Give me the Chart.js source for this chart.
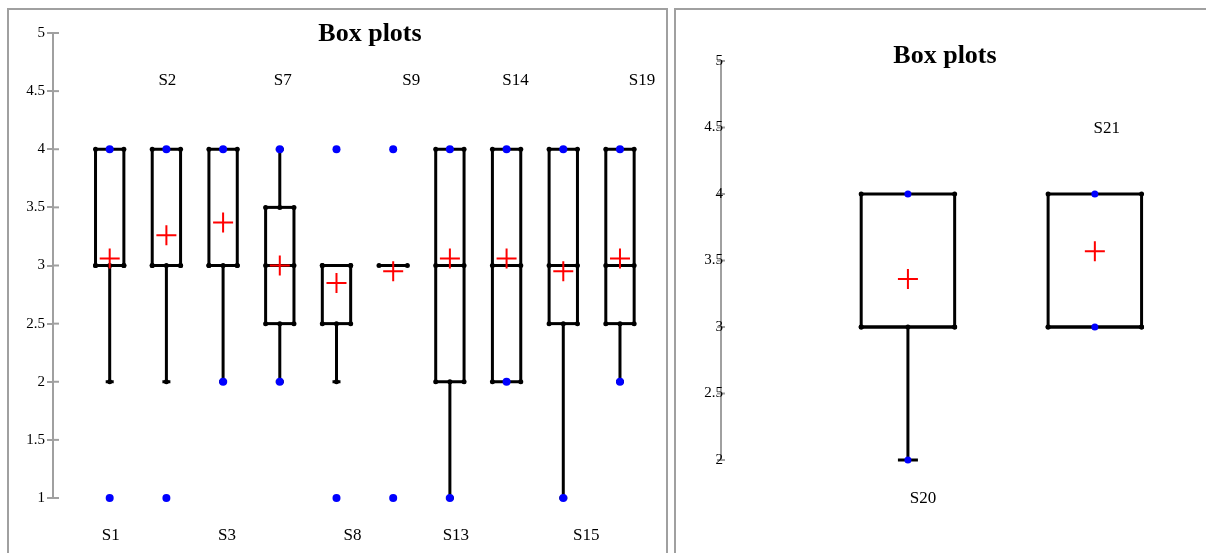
<!DOCTYPE html>
<html>
<head>
  <title>Box plots</title>
  <script src="https://cdn.jsdelivr.net/npm/chart.js@4.4.0/dist/chart.umd.min.js"></script>
  <style>
    body { margin: 0; background: #fff; width: 1206px; height: 553px; overflow: hidden; }
    .panel { position: absolute; border: 2px solid #a0a0a0; box-sizing: border-box; overflow: hidden; }
    #p1 { left: 7px; top: 8px; width: 661px; height: 600px; }
    #p2 { left: 674px; top: 8px; width: 600px; height: 600px; }
    canvas { position: absolute; left: 0; top: 0; }
  </style>
</head>
<body>
  <div class="panel" id="p1"><canvas id="c1" width="657" height="543"></canvas></div>
  <div class="panel" id="p2"><canvas id="c2" width="560" height="543"></canvas></div>

  <script>
    // left panel
    const namesA = ['S1', 'S2', 'S3', 'S7', 'S8', 'S9', 'S13', 'S14', 'S15', 'S19'];
    const q1A    = [3, 3, 3, 2.5, 2.5, 3, 2, 2, 2.5, 2.5];
    const medA   = [3, 3, 3, 3, 3, 3, 3, 3, 3, 3];
    const q3A    = [4, 4, 4, 3.5, 3, 3, 4, 4, 4, 4];
    const loA    = [2, 2, 2, 2, 2, 3, 1, 2, 1, 2];
    const hiA    = [4, 4, 4, 4, 3, 3, 4, 4, 4, 4];
    const meanA  = [3.06, 3.26, 3.37, 3.0, 2.85, 2.95, 3.06, 3.06, 2.95, 3.06];
    const minA   = [1, 1, 2, 2, 1, 1, 1, 2, 1, 2];
    const maxA   = [4, 4, 4, 4, 4, 4, 4, 4, 4, 4];

    // right panel
    const namesB = ['S20', 'S21'];
    const q1B    = [3, 3];
    const medB   = [3, 3];
    const q3B    = [4, 4];
    const loB    = [2, 3];
    const hiB    = [4, 4];
    const meanB  = [3.36, 3.57];
    const minB   = [2, 3];
    const maxB   = [4, 4];

    const serif = "'Liberation Serif', 'Times New Roman', serif";

    // label nudges (px), the source draws names a bit off-centre
    const shiftA = [1, 1, 4, 3, 16, 18, 6, 9, 23, 22];
    const shiftB = [15, 12];

    function line(ctx, x1, y1, x2, y2) {
      ctx.beginPath(); ctx.moveTo(x1, y1); ctx.lineTo(x2, y2); ctx.stroke();
    }
    function dot(ctx, x, y, r) {
      ctx.beginPath(); ctx.arc(x, y, r, 0, Math.PI * 2); ctx.fill();
    }

    const boxPlugin = {
      id: 'boxes',
      beforeDraw(chart, args, o) {
        // small ticks on the inner side of the axis, under the tick labels
        const { ctx } = chart;
        const y = chart.scales.y;
        const ax = chart.chartArea.left;
        ctx.save();
        ctx.strokeStyle = '#a0a0a0';
        ctx.lineWidth = 2;
        y.ticks.forEach(t => {
          const ty = y.getPixelForValue(t.value);
          line(ctx, ax - o.tickOut, ty, ax + o.tickIn, ty);
        });
        ctx.restore();
      },
      beforeDatasetsDraw(chart, args, o) {
        const { ctx } = chart;
        const x = chart.scales.x, y = chart.scales.y;
        const s = o.set;
        ctx.save();
        ctx.strokeStyle = '#000';
        ctx.fillStyle = '#000';
        ctx.lineWidth = 3;
        s.names.forEach((n, i) => {
          const c = x.getPixelForValue(i + 1);
          const hw = x.getPixelForValue(i + 1.25) - c;
          const yq1 = y.getPixelForValue(s.q1[i]);
          const yq3 = y.getPixelForValue(s.q3[i]);
          const ymed = y.getPixelForValue(s.med[i]);
          const ylo = y.getPixelForValue(s.lo[i]);
          const yhi = y.getPixelForValue(s.hi[i]);
          // whiskers
          if (s.lo[i] < s.q1[i]) {
            line(ctx, c, yq1, c, ylo);
            line(ctx, c - o.cap, ylo, c + o.cap, ylo);
            dot(ctx, c, ylo, 2.5);
            dot(ctx, c, yq1, 2.5);
          }
          if (s.hi[i] > s.q3[i]) {
            line(ctx, c, yq3, c, yhi);
            line(ctx, c - o.cap, yhi, c + o.cap, yhi);
            dot(ctx, c, yhi, 2.5);
            dot(ctx, c, yq3, 2.5);
          }
          // box
          if (s.q3[i] > s.q1[i]) {
            ctx.strokeRect(c - hw, yq3, hw * 2, yq1 - yq3);
            dot(ctx, c - hw, yq1, 2.5); dot(ctx, c + hw, yq1, 2.5);
            dot(ctx, c - hw, yq3, 2.5); dot(ctx, c + hw, yq3, 2.5);
          }
          line(ctx, c - hw, ymed, c + hw, ymed);
          dot(ctx, c - hw, ymed, 2.5); dot(ctx, c + hw, ymed, 2.5);
        });
        ctx.restore();
      },
      afterDraw(chart, args, o) {
        const { ctx } = chart;
        const x = chart.scales.x, y = chart.scales.y;
        const s = o.set;
        ctx.save();
        ctx.fillStyle = '#000';
        // tick labels sitting on the axis line (right panel)
        if (o.ownLabels) {
          ctx.font = '15px ' + serif;
          ctx.textAlign = 'right';
          ctx.textBaseline = 'middle';
          const ax = chart.chartArea.left;
          y.ticks.forEach(t => {
            ctx.fillText(t.label, ax + o.labelDx, y.getPixelForValue(t.value));
          });
        }
        // title
        ctx.textAlign = 'center';
        ctx.textBaseline = 'alphabetic';
        ctx.font = 'bold 26px ' + serif;
        ctx.fillText('Box plots', o.titleX, o.titleY);
        // series names, alternating under / over
        ctx.font = '17px ' + serif;
        s.names.forEach((n, i) => {
          const c = x.getPixelForValue(i + 1) + o.shift[i];
          ctx.fillText(n, c, i % 2 === 0 ? o.lowY : o.highY);
        });
        ctx.restore();
      }
    };

    function makeChart(id, set, opt) {
      const means = set.names.map((n, i) => ({ x: i + 1, y: set.mean[i] }));
      const pts = [];
      set.names.forEach((n, i) => {
        pts.push({ x: i + 1, y: set.max[i] });
        pts.push({ x: i + 1, y: set.min[i] });
      });
      return new Chart(document.getElementById(id), {
        type: 'scatter',
        data: {
          datasets: [
            {
              label: 'Mean',
              data: means,
              pointStyle: 'cross',
              pointRadius: 10,
              borderColor: '#ff0000',
              borderWidth: 2,
              clip: false
            },
            {
              label: 'Min/Max',
              data: pts,
              pointStyle: 'circle',
              pointRadius: opt.dotR,
              backgroundColor: '#0000ff',
              borderWidth: 0,
              clip: false
            }
          ]
        },
        options: {
          responsive: false,
          animation: false,
          layout: { padding: opt.padding },
          plugins: {
            legend: { display: false },
            tooltip: { enabled: false },
            boxes: Object.assign({ set: set }, opt.plug)
          },
          scales: {
            x: { type: 'linear', min: 0, max: opt.xMax, display: false },
            y: {
              min: opt.yMin, max: 5,
              ticks: { display: !opt.plug.ownLabels, stepSize: 0.5, color: '#000', padding: 2,
                       font: { family: serif, size: 15 },
                       callback: v => String(v) },
              grid: { drawOnChartArea: false, drawTicks: opt.drawTicks, color: '#a0a0a0',
                      lineWidth: 2, tickLength: 6 },
              border: { color: '#a0a0a0', width: 2 },
              afterFit(sc) { sc.width = opt.axisW; }
            }
          }
        },
        plugins: [boxPlugin]
      });
    }

    makeChart('c1',
      { names: namesA, q1: q1A, med: medA, q3: q3A, lo: loA, hi: hiA, mean: meanA, min: minA, max: maxA },
      {
        padding: { left: 0, top: 23, right: 9, bottom: 55 },
        xMax: 10.6, yMin: 1, axisW: 44, drawTicks: true, dotR: 4,
        plug: { ownLabels: false, cap: 4, tickOut: 0, tickIn: 6, titleX: 361, titleY: 31,
                lowY: 530, highY: 75, shift: shiftA }
      });

    makeChart('c2',
      { names: namesB, q1: q1B, med: medB, q3: q3B, lo: loB, hi: hiB, mean: meanB, min: minB, max: maxB },
      {
        padding: { left: 0, top: 51, right: 29, bottom: 93 },
        xMax: 2.6, yMin: 2, axisW: 45, drawTicks: false, dotR: 3.5,
        plug: { ownLabels: true, labelDx: 2, cap: 10, tickOut: 4, tickIn: 4, titleX: 269, titleY: 53,
                lowY: 493, highY: 123, shift: shiftB }
      });
  </script>
</body>
</html>
